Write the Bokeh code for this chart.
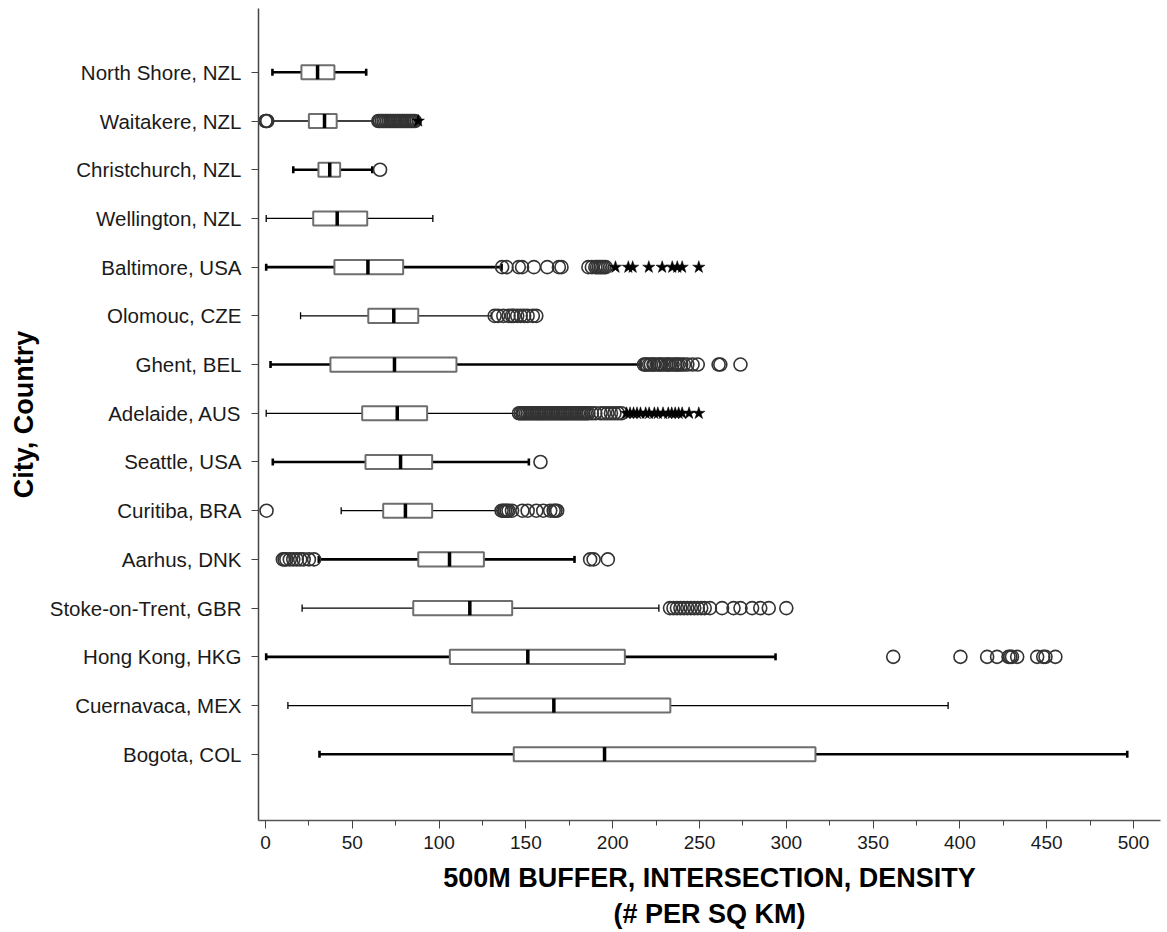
from bokeh.plotting import figure
from bokeh.models import Range1d, FixedTicker, SingleIntervalTicker, ColumnDataSource
from bokeh.embed import file_html
from bokeh.resources import INLINE

cities = ["North Shore, NZL", "Waitakere, NZL", "Christchurch, NZL", "Wellington, NZL",
          "Baltimore, USA", "Olomouc, CZE", "Ghent, BEL", "Adelaide, AUS", "Seattle, USA",
          "Curitiba, BRA", "Aarhus, DNK", "Stoke-on-Trent, GBR", "Hong Kong, HKG",
          "Cuernavaca, MEX", "Bogota, COL"]

whisker_low = [4, 4, 16, 0.4, 0.4, 20.2, 2.9, 0.4, 4.2, 43.6, 30.7, 21.1, 0.4, 12.9, 31.1]
q1 = [20.7, 25, 30.5, 27.5, 39.7, 59.2, 37.4, 55.7, 57.6, 67.8, 88, 85.1, 106.2, 119, 143]
median = [30, 34, 37, 41.3, 59, 73.9, 74.3, 75.9, 77.8, 80.6, 106, 117.7, 151.1, 166.1, 195.3]
q3 = [39.7, 41, 43, 58.6, 79.3, 88, 110, 93.1, 96, 96, 125.8, 142.1, 207, 233.2, 316.8]
whisker_high = [58, 62, 61.5, 96.4, 136, 130, 216, 145, 151.7, 134.4, 178, 226.6, 293.8, 393.2, 496.4]

# outliers (circles) and extreme values (stars), per city
north_shore_out = []
waitakere_out = [0, 0.5, 1, 65, 66, 67, 68, 69, 70, 71, 72, 73, 74, 75, 76, 77, 78, 79, 80,
                 81, 82, 83, 84, 85, 86]
waitakere_ext = [88]
christchurch_out = [66]
wellington_out = []
baltimore_out = [136.3, 138.8, 145.9, 147.8, 154.6, 162.3, 169, 170.5, 186, 188, 190, 191,
                 192, 193, 194, 195, 196]
baltimore_ext = [201.6, 209, 211.5, 220.8, 228.5, 234.3, 237.2, 240, 249.6]
olomouc_out = [132, 134, 137, 140, 142, 143, 145, 147, 149, 151, 154, 156]
ghent_out = [218, 219, 219.5, 221, 222, 223.5, 224, 226, 227, 228, 229.5, 231, 232, 233,
             234.5, 236, 237, 238, 239.5, 241, 243, 246, 249, 261, 262, 273.6]
adelaide_out = [146, 147, 148, 149, 150, 151, 152, 153, 154, 155, 156, 157, 158, 159, 160,
                161, 162, 163, 164, 165, 166, 167, 168, 169, 170, 171, 172, 173, 174, 175,
                176, 177, 178, 179, 180, 181, 182, 183, 184, 185, 186, 188, 190, 193, 195,
                197, 199, 201, 203, 205]
adelaide_ext = [208, 210, 212, 214, 216, 219, 221, 224, 226, 229, 232, 234, 236, 238, 240,
                244, 249.6]
seattle_out = [158.4]
curitiba_out = [0.6, 136, 137, 138, 139, 140, 142, 148, 151, 156, 160, 164, 166, 167, 168]
aarhus_out = [10, 11, 12, 14, 16, 18, 20, 22, 25, 28, 187, 189, 197.2]
stoke_out = [233, 235, 237, 239, 241, 243, 245, 247, 249, 251, 253, 256, 263, 269.6, 273.6,
             280.3, 285, 289.9, 300]
hong_kong_out = [361.6, 400.3, 415.7, 421.4, 428, 429, 430, 433, 444.5, 448, 449.3, 455]
cuernavaca_out = []
bogota_out = []

circle_outliers = [north_shore_out, waitakere_out, christchurch_out, wellington_out,
                   baltimore_out, olomouc_out, ghent_out, adelaide_out, seattle_out,
                   curitiba_out, aarhus_out, stoke_out, hong_kong_out, cuernavaca_out,
                   bogota_out]
star_extremes = [[], waitakere_ext, [], [], baltimore_ext, [], [], adelaide_ext,
                 [], [], [], [], [], [], []]

x_ticks_interval = 50
x_title = "500M BUFFER, INTERSECTION, DENSITY\n(# PER SQ KM)"
y_title = "City, Country"

# ---------------------------------------------------------------------------
W, H = 1167, 932
LEFT, RIGHT, TOP, BOTTOM = 258, 7, 8, 112
X0, X1 = -4.03, 515.55
Y0, Y1 = 15.36, -1.31   # bottom, top (reversed)

ypos = list(range(len(cities)))
lw = [2.6 if i % 2 == 0 else 1.3 for i in ypos]
cap_half = 0.072
box_half = 0.145

src = ColumnDataSource(dict(
    y=ypos, lo=whisker_low, q1=q1, med=median, q3=q3, hi=whisker_high, lw=lw,
    c0=[y - cap_half for y in ypos], c1=[y + cap_half for y in ypos],
    m0=[y - box_half for y in ypos], m1=[y + box_half for y in ypos],
))

cx, cy = [], []
for i, vals in enumerate(circle_outliers):
    cx += vals
    cy += [i] * len(vals)
sx, sy = [], []
for i, vals in enumerate(star_extremes):
    sx += vals
    sy += [i] * len(vals)

p = figure(width=W, height=H,
           x_range=Range1d(X0, X1), y_range=Range1d(Y0, Y1),
           output_backend="svg", toolbar_location=None,
           min_border_left=LEFT, min_border_right=RIGHT, min_border_top=TOP,
           min_border_bottom=BOTTOM)
p.outline_line_color = None
p.grid.visible = False
p.background_fill_color = "white"
p.border_fill_color = "white"

# whiskers
p.segment(x0="lo", y0="y", x1="q1", y1="y", line_width="lw", line_color="black", source=src)
p.segment(x0="q3", y0="y", x1="hi", y1="y", line_width="lw", line_color="black", source=src)
# caps
p.segment(x0="lo", y0="c0", x1="lo", y1="c1", line_width="lw", line_color="black", source=src)
p.segment(x0="hi", y0="c0", x1="hi", y1="c1", line_width="lw", line_color="black", source=src)
# boxes
p.hbar(y="y", left="q1", right="q3", height=2 * box_half, fill_color="white",
       line_color="#6e6e6e", line_width=2, source=src)
# medians
p.segment(x0="med", y0="m0", x1="med", y1="m1", line_width=3.5, line_color="black", source=src)

# outliers
p.scatter(x=cx, y=cy, marker="circle", size=13, fill_color=None,
          line_color="#333333", line_width=1.6)
p.scatter(x=sx, y=sy, marker="star", size=13, fill_color="black",
          line_color="black", line_width=0.5)

FONT = "Liberation Sans"

ya = p.yaxis[0]
ya.ticker = FixedTicker(ticks=ypos)
ya.major_label_overrides = {i: c for i, c in enumerate(cities)}
ya.minor_tick_line_color = None
ya.major_tick_in = 0
ya.major_tick_out = 7
ya.major_tick_line_color = "#444444"
ya.axis_line_color = "#444444"
ya.axis_line_width = 1.5
ya.major_label_text_font = FONT
ya.major_label_text_font_size = "20.5px"
ya.major_label_text_color = "#1a1a1a"
ya.major_label_standoff = 10
ya.axis_label = y_title
ya.axis_label_text_font = FONT
ya.axis_label_text_font_style = "bold"
ya.axis_label_text_font_size = "27px"
ya.axis_label_text_color = "black"
ya.axis_label_standoff = 8

xa = p.xaxis[0]
xa.ticker = SingleIntervalTicker(interval=x_ticks_interval, num_minor_ticks=2)
xa.major_tick_in = 0
xa.major_tick_out = 8
xa.minor_tick_in = 0
xa.minor_tick_out = 5
xa.major_tick_line_color = "#444444"
xa.minor_tick_line_color = "#444444"
xa.axis_line_color = "#555555"
xa.axis_line_width = 1.5
xa.major_label_text_font = FONT
xa.major_label_text_font_size = "19px"
xa.major_label_text_color = "#1a1a1a"
xa.major_label_standoff = 7
xa.axis_label = x_title
xa.axis_label_text_font = FONT
xa.axis_label_text_font_style = "bold"
xa.axis_label_text_font_size = "27px"
xa.axis_label_text_color = "black"
xa.axis_label_text_line_height = 1.2
xa.axis_label_standoff = 11

open("out.html", "w").write(file_html(p, INLINE))
